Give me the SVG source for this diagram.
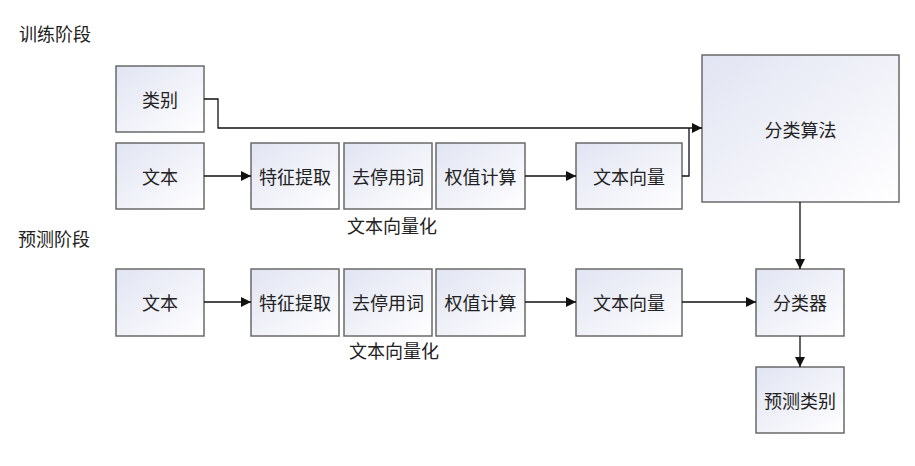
<svg xmlns="http://www.w3.org/2000/svg" width="915" height="466" viewBox="0 0 915 466">
<defs>
<linearGradient id="g" x1="0" y1="0" x2="1" y2="1">
<stop offset="0" stop-color="#e1e4f2"/>
<stop offset="1" stop-color="#ffffff"/>
</linearGradient>
<marker id="ah" viewBox="0 0 10 10" refX="10" refY="5" markerWidth="10" markerHeight="10" markerUnits="userSpaceOnUse" orient="auto">
<path d="M0,0 L10,5 L0,10 Z" fill="#111"/>
</marker>
<style>
.n rect{fill:url(#g);stroke:#6a6a6a;stroke-width:1.5}
text{font-family:"Noto Sans CJK SC","Noto Sans",sans-serif;font-size:18px;fill:#222}
.n text{text-anchor:middle;dominant-baseline:central}
.c path{fill:none;stroke:#111;stroke-width:1.3}
.c path.a{marker-end:url(#ah)}
</style>
</defs>
<rect width="915" height="466" fill="#fff"/>
<text x="19" y="41">训练阶段</text>
<text x="18" y="246">预测阶段</text>
<text x="392" y="233" text-anchor="middle">文本向量化</text>
<text x="394" y="358" text-anchor="middle">文本向量化</text>

<g id="t_cat" class="n"><rect x="116" y="66" width="88" height="66"/><text x="160" y="99">类别</text></g>
<g id="t_text" class="n"><rect x="116" y="143" width="88" height="66"/><text x="160" y="176">文本</text></g>
<g id="t_feat" class="n"><rect x="251" y="143" width="88" height="66"/><text x="295" y="176">特征提取</text></g>
<g id="t_stop" class="n"><rect x="344" y="143" width="88" height="66"/><text x="388" y="176">去停用词</text></g>
<g id="t_weight" class="n"><rect x="436" y="143" width="89" height="66"/><text x="480.5" y="176">权值计算</text></g>
<g id="t_vec" class="n"><rect x="576" y="143" width="106" height="66"/><text x="629" y="176">文本向量</text></g>
<g id="algo" class="n"><rect x="702" y="55" width="197" height="147"/><text x="800.5" y="128.5">分类算法</text></g>

<g id="p_text" class="n"><rect x="116" y="269" width="88" height="67"/><text x="160" y="302">文本</text></g>
<g id="p_feat" class="n"><rect x="251" y="269" width="88" height="67"/><text x="295" y="302">特征提取</text></g>
<g id="p_stop" class="n"><rect x="344" y="269" width="88" height="67"/><text x="388" y="302">去停用词</text></g>
<g id="p_weight" class="n"><rect x="436" y="269" width="89" height="67"/><text x="480.5" y="302">权值计算</text></g>
<g id="p_vec" class="n"><rect x="576" y="269" width="106" height="67"/><text x="629" y="302">文本向量</text></g>
<g id="clf" class="n"><rect x="756" y="269" width="88" height="67"/><text x="800" y="302">分类器</text></g>
<g id="pred" class="n"><rect x="756" y="367" width="88" height="66"/><text x="800" y="400">预测类别</text></g>

<g id="connectors" class="c">
<path class="a" d="M204,99 H218 V128 H702"/>
<path d="M682,176 H689 V128"/>
<path class="a" d="M204,176 H251"/>
<path class="a" d="M525,176 H576"/>
<path class="a" d="M800,202 V269"/>
<path class="a" d="M204,302 H251"/>
<path class="a" d="M525,302 H576"/>
<path class="a" d="M682,302 H756"/>
<path class="a" d="M800,336 V367"/>
</g>
</svg>
